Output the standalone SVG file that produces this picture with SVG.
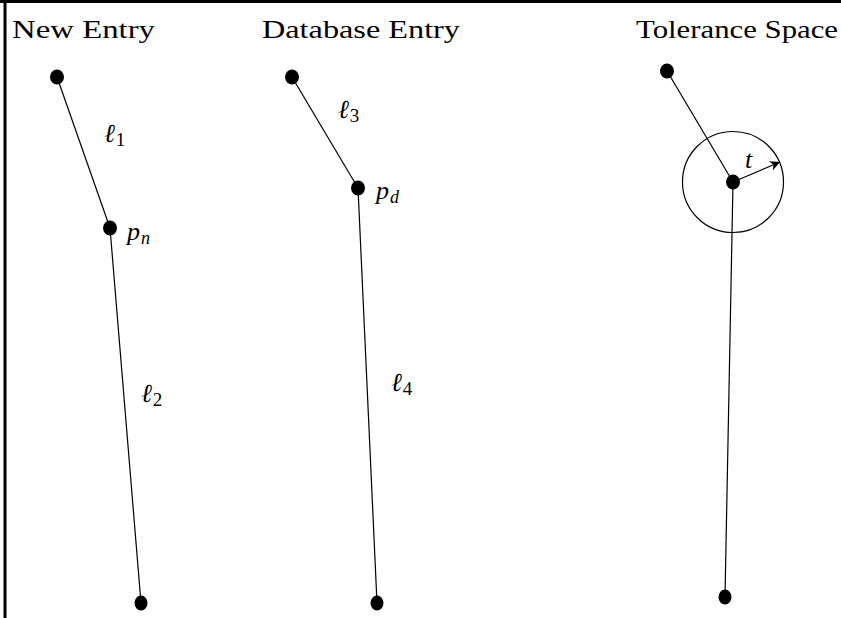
<svg xmlns="http://www.w3.org/2000/svg" width="841" height="618" viewBox="0 0 841 618">
<style>
.t{font-family:"Liberation Serif",serif;font-size:25px;fill:#000}
.m{font-family:"Liberation Serif",serif;font-style:italic;font-size:26px;fill:#000}
.s{font-family:"Liberation Serif",serif;font-style:normal;font-size:19px;fill:#000}
.si{font-family:"Liberation Serif",serif;font-style:italic;font-size:18px;fill:#000}
.ln{stroke:#000;stroke-width:1.2;fill:none}
.d{fill:#000}
</style>
<defs>
<marker id="ah" viewBox="0 0 10 10" refX="10" refY="5" markerWidth="16" markerHeight="10" markerUnits="userSpaceOnUse" orient="auto"><path d="M0,0 L10,5 L0,10 L3,5 z" fill="#000"/></marker>
</defs>
<rect width="841" height="618" fill="#fff"/>
<g id="frame">
<line x1="0" y1="1.5" x2="841" y2="1.5" stroke="#000" stroke-width="3"/>
<line x1="5" y1="0" x2="5" y2="618" stroke="#000" stroke-width="3"/>
</g>
<g id="titles">
<text class="t" x="12" y="38" textLength="143" lengthAdjust="spacingAndGlyphs">New Entry</text>
<text class="t" x="262" y="38" textLength="198" lengthAdjust="spacingAndGlyphs">Database Entry</text>
<text class="t" x="636" y="38" textLength="202" lengthAdjust="spacingAndGlyphs">Tolerance Space</text>
</g>
<g id="connectors">
<line class="ln" x1="57" y1="77" x2="110" y2="228"/>
<line class="ln" x1="110" y1="228" x2="141" y2="603"/>
<line class="ln" x1="292" y1="77" x2="358" y2="188"/>
<line class="ln" x1="358" y1="188" x2="377" y2="603"/>
<line class="ln" x1="667" y1="71" x2="733" y2="182"/>
<line class="ln" x1="733" y1="182" x2="725" y2="597"/>
<circle class="ln" cx="733" cy="182" r="50.5"/>
<line class="ln" x1="733" y1="182" x2="780" y2="162" marker-end="url(#ah)"/>
</g>
<g id="new-entry">
<ellipse class="d" cx="57" cy="77" rx="7" ry="7.5"/>
<ellipse class="d" cx="110" cy="228" rx="7" ry="7.5"/>
<ellipse class="d" cx="141" cy="603" rx="6.5" ry="7.5"/>
</g>
<g id="database-entry">
<ellipse class="d" cx="292" cy="77" rx="7" ry="7.5"/>
<ellipse class="d" cx="358" cy="188" rx="7" ry="7.5"/>
<ellipse class="d" cx="377" cy="603" rx="6.5" ry="7.5"/>
</g>
<g id="tolerance-space">
<ellipse class="d" cx="667" cy="71" rx="7" ry="7.5"/>
<ellipse class="d" cx="733" cy="182" rx="7" ry="7.5"/>
<ellipse class="d" cx="725" cy="597" rx="6.5" ry="7.5"/>
</g>
<g id="labels">
<text class="m" x="104" y="142">ℓ<tspan class="s" dx="1" dy="4">1</tspan></text>
<text class="m" x="127" y="240">p<tspan class="si" dx="1" dy="4">n</tspan></text>
<text class="m" x="141" y="402">ℓ<tspan class="s" dx="1" dy="4">2</tspan></text>
<text class="m" x="338" y="118">ℓ<tspan class="s" dx="1" dy="4">3</tspan></text>
<text class="m" x="376" y="199">p<tspan class="si" dx="1" dy="4">d</tspan></text>
<text class="m" x="391" y="391">ℓ<tspan class="s" dx="1" dy="4">4</tspan></text>
<text class="m" x="745" y="168">t</text>
</g>
</svg>
